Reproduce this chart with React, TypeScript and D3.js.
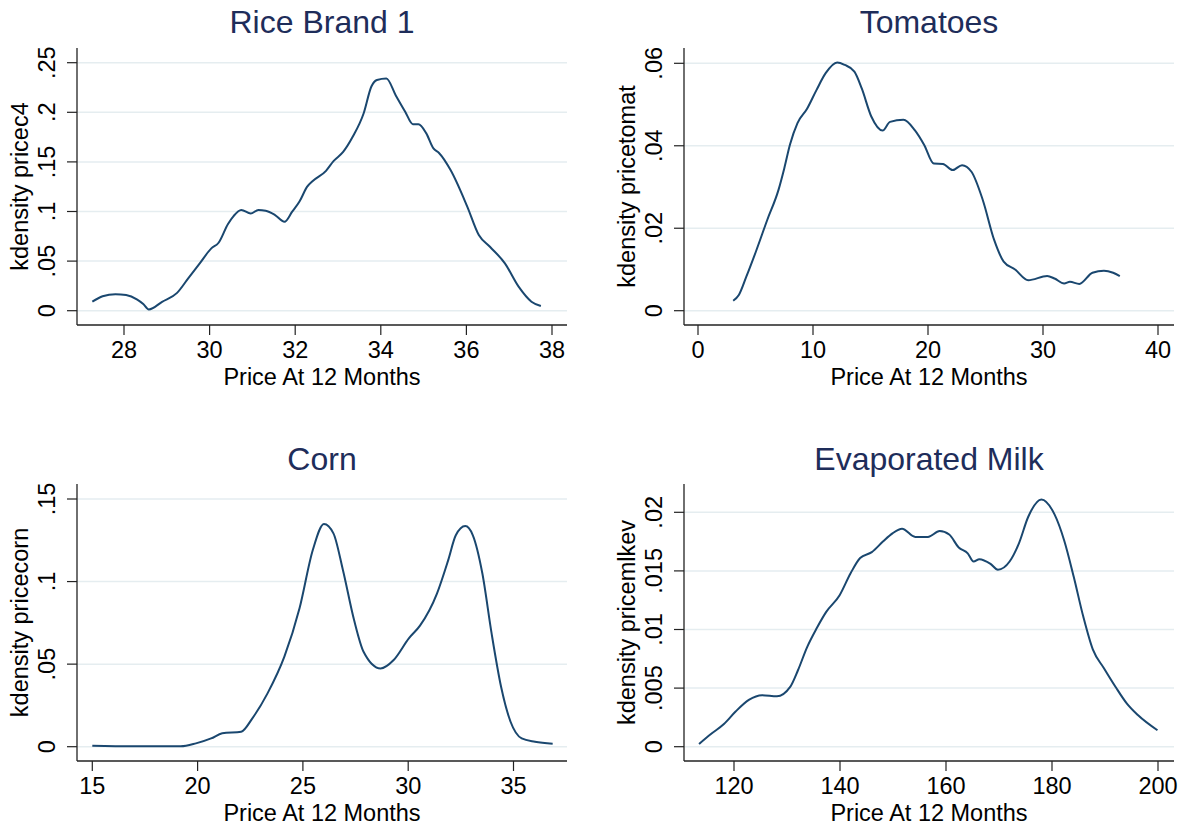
import React from "react";
import * as d3 from "d3";

// Rice Brand 1 density (price, density)
const riceX = [27.26, 27.5, 27.8, 28.05, 28.3, 28.45, 28.58, 28.89, 29.24, 29.5, 29.77, 30.04, 30.21, 30.43, 30.56, 30.74, 30.96, 31.14, 31.31, 31.53, 31.75, 31.93, 32.1, 32.28, 32.41, 32.72, 32.9, 33.12, 33.34, 33.6, 33.78, 33.91, 34.13, 34.35, 34.57, 34.75, 34.88, 35.06, 35.23, 35.36, 35.63, 36.02, 36.29, 36.55, 36.9, 37.22, 37.52, 37.74];
const riceY = [0.0091, 0.0145, 0.0167, 0.0158, 0.0115, 0.0068, 0.0013, 0.009, 0.018, 0.0326, 0.0477, 0.0628, 0.0685, 0.0874, 0.0954, 0.1015, 0.098, 0.1015, 0.1008, 0.0964, 0.0897, 0.0998, 0.11, 0.125, 0.1307, 0.141, 0.151, 0.16, 0.175, 0.199, 0.226, 0.2325, 0.234, 0.217, 0.2006, 0.188, 0.188, 0.179, 0.1636, 0.159, 0.1418, 0.105, 0.0763, 0.0645, 0.0477, 0.0242, 0.0091, 0.0047];

// Tomatoes density
const tomX = [3.06, 3.55, 4.21, 5.03, 6.02, 7.0, 7.5, 8.0, 8.65, 9.47, 10.3, 11.1, 12.1, 12.76, 13.6, 14.24, 15.07, 16.05, 16.7, 17.86, 18.85, 19.67, 20.5, 21.3, 22.14, 22.96, 23.78, 24.77, 25.76, 26.58, 27.57, 28.72, 30.36, 31.0, 31.84, 32.34, 33.16, 34.3, 35.3, 36.1, 36.68];
const tomY = [0.0024, 0.0038, 0.0083, 0.0143, 0.022, 0.0293, 0.0345, 0.0403, 0.0455, 0.0489, 0.0535, 0.0576, 0.0602, 0.0596, 0.058, 0.0539, 0.0471, 0.0437, 0.0458, 0.0463, 0.0438, 0.0402, 0.0357, 0.0356, 0.0341, 0.0353, 0.0337, 0.0268, 0.0171, 0.0119, 0.01, 0.0074, 0.0084, 0.0078, 0.0066, 0.007, 0.0065, 0.0092, 0.0097, 0.0092, 0.0084];

// Corn density
const cornX = [15, 16.88, 19.2, 19.92, 20.64, 21.17, 22.07, 22.6, 23.32, 24.12, 24.84, 25.47, 26.0, 26.45, 26.9, 27.43, 27.88, 28.69, 29.31, 30.03, 30.56, 31.37, 31.9, 32.26, 32.71, 33.07, 33.52, 33.96, 34.41, 34.86, 35.39, 36.02, 36.86];
const cornY = [0.0006, 0.0002, 0.0002, 0.002, 0.005, 0.0081, 0.0091, 0.0172, 0.0323, 0.0545, 0.0838, 0.1191, 0.1349, 0.1292, 0.107, 0.0767, 0.0575, 0.0474, 0.0525, 0.0656, 0.0733, 0.0929, 0.113, 0.128, 0.1336, 0.128, 0.105, 0.0686, 0.0363, 0.0151, 0.005, 0.003, 0.0018];

// Evaporated milk density
const milkX = [113.4, 115.65, 118.1, 120.3, 122.8, 125.3, 128.1, 130.6, 132.05, 133.8, 135.6, 137.4, 139.9, 142.0, 143.8, 146.0, 148.1, 149.9, 151.7, 154.2, 156.6, 158.8, 160.6, 162.4, 164.1, 165.2, 166.3, 168.4, 169.8, 172.0, 173.8, 175.5, 178.0, 180.5, 182.3, 184.1, 185.9, 187.7, 189.8, 192.0, 194.1, 196.2, 199.9];
const milkY = [0.00023, 0.00108, 0.00193, 0.003, 0.004, 0.0044, 0.0043, 0.0051, 0.0065, 0.0085, 0.0101, 0.0115, 0.0129, 0.0148, 0.0161, 0.0166, 0.0175, 0.0182, 0.0186, 0.0179, 0.0179, 0.0184, 0.0181, 0.017, 0.0165, 0.0158, 0.016, 0.0156, 0.0151, 0.0158, 0.0174, 0.0196, 0.0211, 0.0198, 0.0176, 0.0145, 0.0111, 0.0083, 0.0067, 0.0051, 0.0037, 0.0027, 0.0014];

const riceXTicks = [28, 30, 32, 34, 36, 38];
const riceYTicks = [0, 0.05, 0.1, 0.15, 0.2, 0.25];
const riceYLabels = ["0", ".05", ".1", ".15", ".2", ".25"];
const tomXTicks = [0, 10, 20, 30, 40];
const tomYTicks = [0, 0.02, 0.04, 0.06];
const tomYLabels = ["0", ".02", ".04", ".06"];
const cornXTicks = [15, 20, 25, 30, 35];
const cornYTicks = [0, 0.05, 0.1, 0.15];
const cornYLabels = ["0", ".05", ".1", ".15"];
const milkXTicks = [120, 140, 160, 180, 200];
const milkYTicks = [0, 0.005, 0.01, 0.015, 0.02];
const milkYLabels = ["0", ".005", ".01", ".015", ".02"];

const FONT = "'Liberation Sans', Arial, Helvetica, sans-serif";
const LINE = "#1a476f";
const GRID = "#e5edf0";
const TITLE = "#1e2d5a";

type PanelProps = {
  title: string;
  yTitle: string;
  xs: number[];
  ys: number[];
  xTicks: number[];
  yTicks: number[];
  yLabels: string[];
  // layout: pixel anchors
  left: number;
  right: number;
  top: number;
  axisY: number;
  titleY: number;
  xA: [number, number]; // two tick values
  xAPx: [number, number];
  y0Px: number;
  yTopVal: number;
  yTopPx: number;
};

function Panel(p: PanelProps) {
  const x = d3.scaleLinear().domain(p.xA).range(p.xAPx);
  const y = d3.scaleLinear().domain([0, p.yTopVal]).range([p.y0Px, p.yTopPx]);
  const pts = p.xs.map((v, i) => [v, p.ys[i]] as [number, number]);
  const line = d3
    .line<[number, number]>()
    .x((d) => x(d[0]))
    .y((d) => y(d[1]))
    .curve(d3.curveMonotoneX);
  const cx = (p.left + p.right) / 2;
  const cy = (p.top + p.axisY) / 2;
  return (
    <g fontFamily={FONT}>
      <text x={cx} y={p.titleY} textAnchor="middle" fontSize={32} fill={TITLE}>
        {p.title}
      </text>
      {/* grid */}
      {p.yTicks.map((t) => (
        <line key={"g" + t} x1={p.left} x2={p.right} y1={y(t)} y2={y(t)} stroke={GRID} strokeWidth={1.5} />
      ))}
      {/* curve */}
      <path d={line(pts) || ""} fill="none" stroke={LINE} strokeWidth={2} />
      {/* y axis */}
      <line x1={p.left} x2={p.left} y1={p.top} y2={p.axisY} stroke="#222" strokeWidth={1.3} />
      {p.yTicks.map((t, i) => (
        <g key={"y" + t}>
          <line x1={p.left - 10} x2={p.left} y1={y(t)} y2={y(t)} stroke="#222" strokeWidth={1.2} />
          <text
            transform={`translate(${p.left - 22},${y(t)}) rotate(-90)`}
            textAnchor="middle"
            fontSize={23.5}
            fill="#000"
          >
            {p.yLabels[i]}
          </text>
        </g>
      ))}
      <text
        transform={`translate(${p.left - 49},${cy}) rotate(-90)`}
        textAnchor="middle"
        fontSize={23.5}
        fill="#000"
      >
        {p.yTitle}
      </text>
      {/* x axis */}
      <line x1={p.left} x2={p.right} y1={p.axisY} y2={p.axisY} stroke="#222" strokeWidth={1.3} />
      {p.xTicks.map((t) => (
        <g key={"x" + t}>
          <line x1={x(t)} x2={x(t)} y1={p.axisY} y2={p.axisY + 10} stroke="#222" strokeWidth={1.2} />
          <text x={x(t)} y={p.axisY + 33} textAnchor="middle" fontSize={23.5} fill="#000">
            {t}
          </text>
        </g>
      ))}
      <text x={cx} y={p.axisY + 60} textAnchor="middle" fontSize={23.5} fill="#000">
        Price At 12 Months
      </text>
    </g>
  );
}

export default function App() {
  return (
    <div>
      <style>{"body{margin:0}"}</style>
      <svg width={1183} height={825} viewBox="0 0 1183 825" style={{ display: "block", background: "#fff" }}>
        <Panel
          title="Rice Brand 1"
          yTitle="kdensity pricec4"
          xs={riceX}
          ys={riceY}
          xTicks={riceXTicks}
          yTicks={riceYTicks}
          yLabels={riceYLabels}
          left={77}
          right={567}
          top={48}
          axisY={325}
          titleY={33}
          xA={[28, 38]}
          xAPx={[124, 552]}
          y0Px={310.7}
          yTopVal={0.25}
          yTopPx={62.7}
        />
        <Panel
          title="Tomatoes"
          yTitle="kdensity pricetomat"
          xs={tomX}
          ys={tomY}
          xTicks={tomXTicks}
          yTicks={tomYTicks}
          yLabels={tomYLabels}
          left={684}
          right={1174}
          top={48}
          axisY={325}
          titleY={33}
          xA={[0, 40]}
          xAPx={[698, 1158]}
          y0Px={310.7}
          yTopVal={0.06}
          yTopPx={63.3}
        />
        <Panel
          title="Corn"
          yTitle="kdensity pricecorn"
          xs={cornX}
          ys={cornY}
          xTicks={cornXTicks}
          yTicks={cornYTicks}
          yLabels={cornYLabels}
          left={77}
          right={567}
          top={484}
          axisY={761}
          titleY={470}
          xA={[15, 35]}
          xAPx={[92.3, 513.5]}
          y0Px={746.7}
          yTopVal={0.15}
          yTopPx={499}
        />
        <Panel
          title="Evaporated Milk"
          yTitle="kdensity pricemlkev"
          xs={milkX}
          ys={milkY}
          xTicks={milkXTicks}
          yTicks={milkYTicks}
          yLabels={milkYLabels}
          left={684}
          right={1174}
          top={484}
          axisY={761}
          titleY={470}
          xA={[120, 200]}
          xAPx={[734, 1158]}
          y0Px={746.7}
          yTopVal={0.02}
          yTopPx={512.3}
        />
      </svg>
    </div>
  );
}
